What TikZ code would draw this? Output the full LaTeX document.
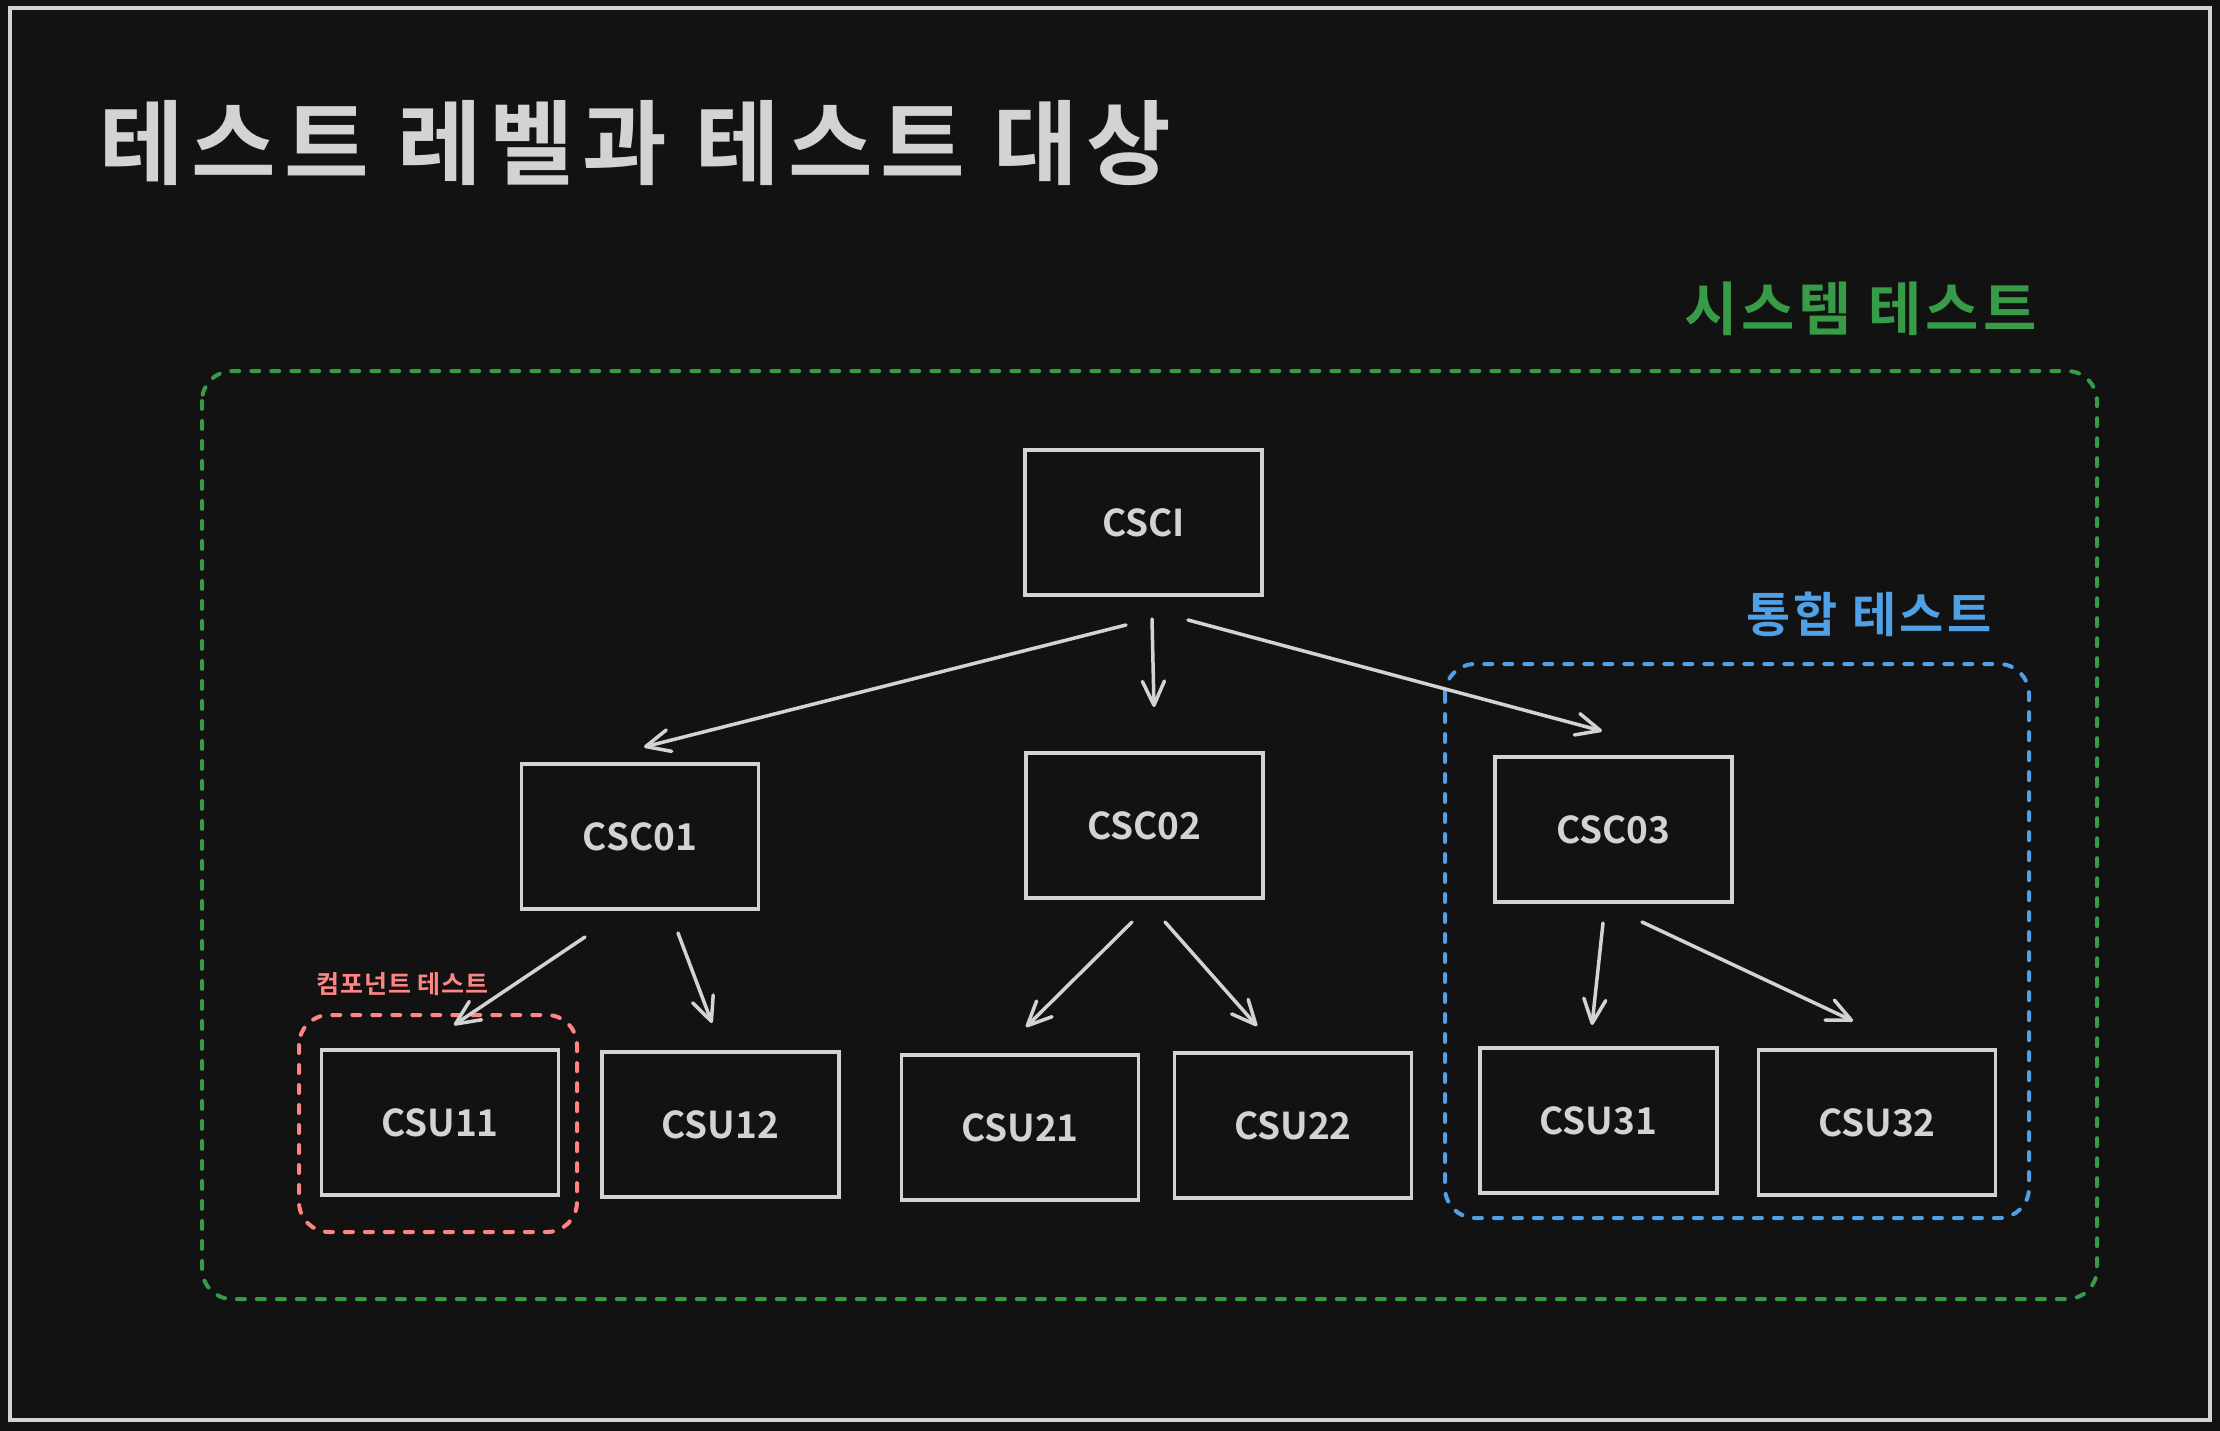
\documentclass[tikz,border=0pt]{standalone}
\usepackage{fontspec}
\setmainfont{Noto Sans CJK KR}[BoldFont={* Bold}]
\newfontfamily\krtitle{Noto Sans CJK KR}[BoldFont={* Bold}, LetterSpace=8.5]
\newfontfamily\krsys{Noto Sans CJK KR}[BoldFont={* Bold}, LetterSpace=6.5]
\newfontfamily\krint{Noto Sans CJK KR}[BoldFont={* Bold}, LetterSpace=7]
\newfontfamily\krcomp{Noto Sans CJK KR}[BoldFont={* Bold}, LetterSpace=4]
\usetikzlibrary{arrows.meta}
\definecolor{bgc}{HTML}{121212}
\definecolor{fgc}{HTML}{D3D3D3}
\definecolor{grn}{HTML}{389B48}
\definecolor{blu}{HTML}{4FA0E6}
\definecolor{redc}{HTML}{FF8585}
\tikzset{
  box/.style={draw=fgc, line width=3.5pt, minimum width=237pt, minimum height=145pt,
    inner sep=0pt, text=fgc, font=\fontsize{37}{40}\selectfont\bfseries},
  arr/.style={draw=fgc, line width=3.5pt, line cap=round, line join=round,
    -{Straight Barb[length=24pt,width=22pt,line cap=round,line join=round]}},
  grp/.style={line width=4pt, line cap=round, dash pattern=on 8pt off 12pt, rounded corners=30pt},
  ttl/.style={inner sep=0pt, anchor=west}
}
\begin{document}
\begin{tikzpicture}[x=1pt,y=-1pt]
\fill[bgc] (0,0) rectangle (2220,1431);
\useasboundingbox (0,0) rectangle (2220,1431);
\draw[fgc, line width=4pt] (10,8) rectangle (2210,1420);
% title
\node[ttl, text=fgc, font=\krtitle\fontsize{92}{96}\selectfont\bfseries] (title) at (99,143) {테스트 레벨과 테스트 대상};
% groups
\draw[grp, grn] (202,371) rectangle (2097,1299);
\draw[grp, blu] (1445,664) rectangle (2029,1218);
\draw[grp, redc] (299,1015) rectangle (577,1232);
\node[ttl, text=grn, font=\krsys\fontsize{58}{60}\selectfont\bfseries] (sys) at (1684,309) {시스템 테스트};
\node[ttl, text=blu, font=\krint\fontsize{48}{50}\selectfont\bfseries] (integ) at (1746,614) {통합 테스트};
\node[ttl, text=redc, font=\krcomp\fontsize{25}{27}\selectfont\bfseries] (comp) at (316,984) {컴포넌트 테스트};
% boxes
\node[box] (csci) at (1143.5,522.5) {CSCI};
\node[box] (csc01) at (640,836.5) {CSC01};
\node[box] (csc02) at (1144.5,825.5) {CSC02};
\node[box] (csc03) at (1613.5,829.5) {CSC03};
\node[box] (csu11) at (440,1122.5) {CSU11};
\node[box] (csu12) at (720.5,1124.5) {CSU12};
\node[box] (csu21) at (1020,1127.5) {CSU21};
\node[box] (csu22) at (1293,1125.5) {CSU22};
\node[box] (csu31) at (1598.5,1120.5) {CSU31};
\node[box] (csu32) at (1877,1122.5) {CSU32};
% arrow end points
\coordinate (a1s) at (1126,625);  \coordinate (a1e) at (644,747);
\coordinate (a2s) at (1152,619);  \coordinate (a2e) at (1154,707);
\coordinate (a3s) at (1188,620);  \coordinate (a3e) at (1602,731);
\coordinate (a4s) at (585,937);   \coordinate (a4e) at (454,1025);
\coordinate (a5s) at (678,933);   \coordinate (a5e) at (712,1023);
\coordinate (a6s) at (1132,922);  \coordinate (a6e) at (1026,1027);
\coordinate (a7s) at (1165,922);  \coordinate (a7e) at (1257,1026);
\coordinate (a8s) at (1603,923);  \coordinate (a8e) at (1592,1025);
\coordinate (a9s) at (1642,922);  \coordinate (a9e) at (1853,1021);
\foreach \i in {1,...,9} { \draw[arr] (a\i s) -- (a\i e); }
\end{tikzpicture}
\end{document}
